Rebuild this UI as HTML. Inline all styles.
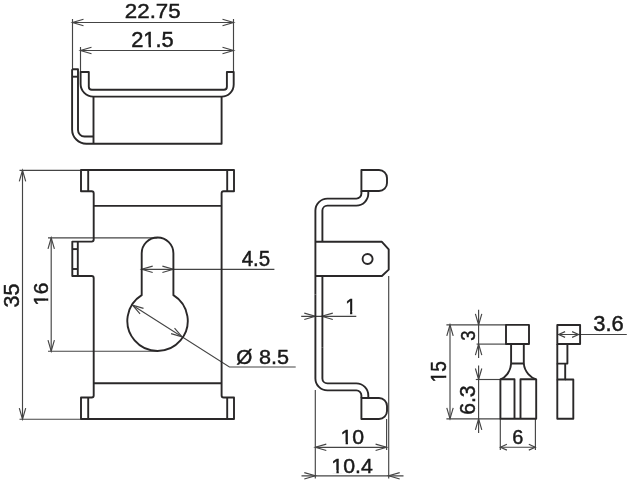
<!DOCTYPE html><html><head><meta charset="utf-8"><style>html,body{margin:0;padding:0;background:#fff;}svg{display:block;will-change:transform;}</style></head><body>
<svg width="629" height="480" viewBox="0 0 629 480">
<rect width="629" height="480" fill="#fff"/>
<g fill="none" stroke="#444444" stroke-width="1.15">
<path d="M72.5,22.5 H233.5"/>
<path d="M83.50,19.30 L72.50,22.50 L83.50,25.70"/>
<path d="M222.50,25.70 L233.50,22.50 L222.50,19.30"/>
<path d="M72.5,19 V69.2"/>
<path d="M233.5,19 V72"/>
<path d="M80.5,50.5 H233.5"/>
<path d="M91.50,47.30 L80.50,50.50 L91.50,53.70"/>
<path d="M222.50,53.70 L233.50,50.50 L222.50,47.30"/>
<path d="M80.5,47 V72"/>
<path d="M19.5,170.3 H81"/>
<path d="M19.5,419.2 H81"/>
<path d="M22.5,170.3 V419.2"/>
<path d="M25.70,181.30 L22.50,170.30 L19.30,181.30"/>
<path d="M19.30,408.20 L22.50,419.20 L25.70,408.20"/>
<path d="M48,237.9 H157.4"/>
<path d="M48,351.2 H157.3"/>
<path d="M51.2,237.9 V351.2"/>
<path d="M54.40,248.90 L51.20,237.90 L48.00,248.90"/>
<path d="M48.00,340.20 L51.20,351.20 L54.40,340.20"/>
<path d="M141.7,269.3 H274.4"/>
<path d="M152.70,266.10 L141.70,269.30 L152.70,272.50"/>
<path d="M162.40,272.50 L173.40,269.30 L162.40,266.10"/>
<path d="M132.51,305.19 L229.4,367.0 H295.7"/>
<path d="M143.51,308.41 L132.51,305.19 L140.07,313.80"/>
<path d="M171.09,333.59 L182.09,336.81 L174.53,328.20"/>
<path d="M388.7,276 V478.5"/>
<path d="M315.3,390 V478.5"/>
<path d="M386.6,419 V450"/>
<path d="M301.2,316.3 H356.3"/>
<path d="M304.30,319.50 L315.30,316.30 L304.30,313.10"/>
<path d="M332.80,313.10 L321.80,316.30 L332.80,319.50"/>
<path d="M315.3,447.3 H386.6"/>
<path d="M326.30,444.10 L315.30,447.30 L326.30,450.50"/>
<path d="M375.60,450.50 L386.60,447.30 L375.60,444.10"/>
<path d="M301.5,475.8 H403.5"/>
<path d="M304.30,479.00 L315.30,475.80 L304.30,472.60"/>
<path d="M399.70,472.60 L388.70,475.80 L399.70,479.00"/>
<path d="M446.4,324.9 H506"/>
<path d="M476.6,344.1 H506"/>
<path d="M475.8,379.5 H500.4"/>
<path d="M446.4,418.8 H500.4"/>
<path d="M450,324.9 V418.8"/>
<path d="M453.20,335.90 L450.00,324.90 L446.80,335.90"/>
<path d="M446.80,407.80 L450.00,418.80 L453.20,407.80"/>
<path d="M478.6,309.8 V358"/>
<path d="M478.6,365.6 V418.8"/>
<path d="M478.6,418.8 V433"/>
<path d="M475.40,313.90 L478.60,324.90 L481.80,313.90"/>
<path d="M481.80,355.10 L478.60,344.10 L475.40,355.10"/>
<path d="M475.40,368.50 L478.60,379.50 L481.80,368.50"/>
<path d="M481.80,429.80 L478.60,418.80 L475.40,429.80"/>
<path d="M500.3,418.8 V450"/>
<path d="M535.4,418.8 V450"/>
<path d="M500.3,447.2 H535.3"/>
<path d="M506.90,444.30 L500.40,447.20 L506.90,450.10"/>
<path d="M528.80,450.10 L535.30,447.20 L528.80,444.30"/>
<path d="M557.3,334.5 H626.8"/>
<path d="M565.10,331.60 L558.60,334.50 L565.10,337.40"/>
<path d="M572.10,337.40 L578.60,334.50 L572.10,331.60"/>
</g>
<g fill="none" stroke="#2a2829" stroke-width="1.9" stroke-linejoin="round">
<path d="M72.1,69.2 H78 V130 A6.5,6.5 0 0 0 84.5,136.5 H93.5"/>
<path d="M72.1,69.2 V129.4 A14.3,14.3 0 0 0 86.4,143.7 H221.6 V96.6"/>
<path d="M72.1,76.7 H78"/>
<path d="M80.6,72 V84 A12.6,12.6 0 0 0 93.2,96.6 H221.6 A12.1,12.1 0 0 0 233.7,84.5 V72 H226.9 V86.8 A3,3 0 0 1 223.9,89.8 H91.8 A3,3 0 0 1 88.8,86.8 V72 Z"/>
<path d="M93.5,96.6 V143.7"/>
<path d="M81,170 H234 V191.3 H223.6 A2,2 0 0 0 221.6,193.3 V395.5 A2,2 0 0 0 223.6,397.5 H234 V419 H81 V397.5 H91.7 A2,2 0 0 0 93.7,395.5 V278 A2,2 0 0 0 91.7,276 H72.3 V241.6 H91.7 A2,2 0 0 0 93.7,239.6 V193.3 A2,2 0 0 0 91.7,191.3 H81 Z"/>
<path d="M88.2,170 V191.3"/>
<path d="M227.2,170 V191.3"/>
<path d="M88.2,397.5 V419"/>
<path d="M227.2,397.5 V419"/>
<path d="M93.7,205.9 H221.6"/>
<path d="M93.7,383.2 H221.6"/>
<path d="M77.8,241.6 V276"/>
<path d="M72.3,249.1 H77.8"/>
<path d="M72.3,269 H77.8"/>
<path d="M141.7,295.14 V253.35 A15.85,15.85 0 0 1 173.4,253.35 V295.14 A30.2,30.2 0 1 1 141.7,295.14 Z"/>
<path d="M361.4,191 V170 H379 A8,8 0 0 1 387,178 V183 A8,8 0 0 1 379,191 Z"/>
<path d="M361.4,191 V193.6 A5,5 0 0 1 356.3,198.6 H327.4 A12,12 0 0 0 315.4,210.6 V294.5"/>
<path d="M368.3,191 V193.6 A12,12 0 0 1 356.3,205.6 H327.4 A5,5 0 0 0 322.4,210.6 V241.8"/>
<path d="M361.4,398.0 V419.0 H379 A8,8 0 0 0 387,411.0 V406.0 A8,8 0 0 0 379,398.0 Z"/>
<path d="M361.4,398.0 V395.4 A5,5 0 0 0 356.3,390.4 H327.4 A12,12 0 0 1 315.4,378.4 V294.5"/>
<path d="M368.3,398.0 V395.4 A12,12 0 0 0 356.3,383.4 H327.4 A5,5 0 0 1 322.4,378.4 V347.2"/>
<path d="M322.4,276 V347.2"/>
<path d="M315.4,241.8 H381.9 L388.7,249.4 V269.6 L381.9,276 H315.4"/>
<path d="M367.6,259 m-5,0 a5,5 0 1 0 10,0 a5,5 0 1 0 -10,0"/>
<path d="M506,324.9 H529 V344 H506 Z"/>
<path d="M511.1,344 V363.5 H523.8 V344"/>
<path d="M511.1,363.5 C510.5,372 505,378 500.4,379.3 V418.8 H536.2 V379.3 C531,378 524.5,372 523.8,363.5"/>
<path d="M500.4,379.3 H514.5 V418.8"/>
<path d="M536.2,379.3 H520.5 V418.8"/>
<path d="M557.3,325 H580.1 V344 H557.3 Z"/>
<path d="M557.3,344 V363.6 H567.4 V344"/>
<path d="M557.3,363.6 V379.5 H565.2 V363.6"/>
<path d="M557.3,379.5 V418.8 H573.3 V379.5 H565.2"/>
</g>
<g fill="#1a1a1a" font-family="Liberation Sans, sans-serif">
<g transform="matrix(0.22322,0,0,0.20339,124.827,17.851)"><text font-size="100" stroke="#1a1a1a" stroke-width="2.2">22.75</text></g>
<g transform="matrix(0.21899,0,0,0.21327,131.149,47.042)"><text font-size="100" stroke="#1a1a1a" stroke-width="2.2">21.5</text><rect x="57.23" y="-11.47" width="22.43" height="17.47" fill="#fff" stroke="none"/><rect x="90.70" y="-11.47" width="21.65" height="17.47" fill="#fff" stroke="none"/></g>
<g transform="matrix(0.20488,0,0,0.21354,241.730,265.641)"><text font-size="100" stroke="#1a1a1a" stroke-width="2.2">4.5</text></g>
<g transform="matrix(0.20656,0,0,0.21045,236.272,363.944)"><text font-size="100" stroke="#1a1a1a" stroke-width="2.2">Ø</text></g>
<g transform="matrix(0.21614,0,0,0.20480,258.911,363.750)"><text font-size="100" stroke="#1a1a1a" stroke-width="2.2">8.5</text></g>
<g transform="matrix(0.19905,0,0,0.22093,345.285,313.550)"><text font-size="100" stroke="#1a1a1a" stroke-width="2.2">1</text><rect x="1.62" y="-11.47" width="22.43" height="17.47" fill="#fff" stroke="none"/><rect x="35.08" y="-11.47" width="21.65" height="17.47" fill="#fff" stroke="none"/></g>
<g transform="matrix(0.21289,0,0,0.20339,340.502,444.151)"><text font-size="100" stroke="#1a1a1a" stroke-width="2.2">10</text><rect x="1.62" y="-11.47" width="22.43" height="17.47" fill="#fff" stroke="none"/><rect x="35.08" y="-11.47" width="21.65" height="17.47" fill="#fff" stroke="none"/></g>
<g transform="matrix(0.21309,0,0,0.20904,331.300,472.546)"><text font-size="100" stroke="#1a1a1a" stroke-width="2.2">10.4</text><rect x="1.62" y="-11.47" width="22.43" height="17.47" fill="#fff" stroke="none"/><rect x="35.08" y="-11.47" width="21.65" height="17.47" fill="#fff" stroke="none"/></g>
<g transform="matrix(0.19938,0,0,0.20762,512.238,444.147)"><text font-size="100" stroke="#1a1a1a" stroke-width="2.2">6</text></g>
<g transform="matrix(0.21940,0,0,0.21327,593.214,331.242)"><text font-size="100" stroke="#1a1a1a" stroke-width="2.2">3.6</text></g>
<g transform="matrix(0,-0.21507,0.21186,0,19.443,307.469)"><text font-size="100" stroke="#1a1a1a" stroke-width="2.2">35</text></g>
<g transform="matrix(0,-0.20881,0.20621,0,47.649,305.759)"><text font-size="100" stroke="#1a1a1a" stroke-width="2.2">16</text><rect x="1.62" y="-11.47" width="22.43" height="17.47" fill="#fff" stroke="none"/><rect x="35.08" y="-11.47" width="21.65" height="17.47" fill="#fff" stroke="none"/></g>
<g transform="matrix(0,-0.19094,0.22071,0,446.434,382.387)"><text font-size="100" stroke="#1a1a1a" stroke-width="2.2">15</text><rect x="1.62" y="-11.47" width="22.43" height="17.47" fill="#fff" stroke="none"/><rect x="35.08" y="-11.47" width="21.65" height="17.47" fill="#fff" stroke="none"/></g>
<g transform="matrix(0,-0.18350,0.21045,0,475.044,340.649)"><text font-size="100" stroke="#1a1a1a" stroke-width="2.2">3</text></g>
<g transform="matrix(0,-0.21152,0.21186,0,475.243,414.824)"><text font-size="100" stroke="#1a1a1a" stroke-width="2.2">6.3</text></g>
</g></svg></body></html>
